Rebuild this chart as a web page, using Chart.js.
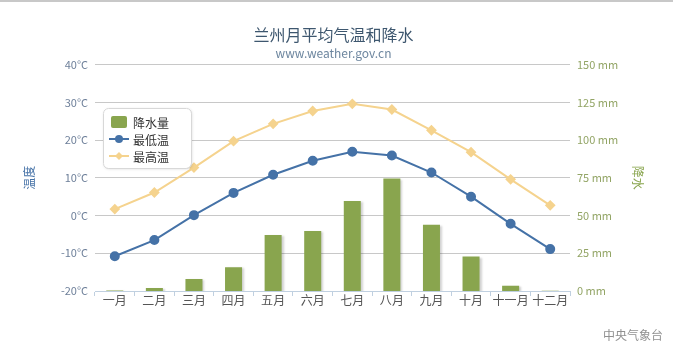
<!DOCTYPE html>
<html>
<head>
<meta charset="utf-8">
<script src="https://cdn.jsdelivr.net/npm/chart.js@4/dist/chart.umd.min.js"></script>
<style>
  html, body { margin: 0; padding: 0; background: #fff; }
  #wrap { position: relative; width: 673px; height: 364px; border-top: 2px solid #c8c8c8; box-sizing: border-box; }
  canvas { display: block; }
</style>
</head>
<body>
<div id="wrap"><canvas id="chart" width="673" height="362"></canvas></div>
<script>
// ── Data ───────────────────────────────────────────────────────────────────────
const months = ["一月", "二月", "三月", "四月", "五月", "六月", "七月", "八月", "九月", "十月", "十一月", "十二月"];
const rainfall = [0.3, 2.0, 7.9, 15.8, 37.1, 39.8, 59.6, 74.5, 43.9, 22.8, 3.5, 0.2];
const minTemp  = [-10.8, -6.5, 0.1, 6.0, 10.8, 14.5, 16.9, 15.9, 11.4, 5.0, -2.2, -8.9];
const maxTemp  = [1.7, 6.1, 12.7, 19.7, 24.3, 27.7, 29.6, 28.1, 22.6, 16.8, 9.6, 2.7];

const FONT = "'Noto Sans CJK SC', 'DejaVu Sans', sans-serif";
const BLUE = "#4572A7";
const GREEN = "#89A54E";
const YELLOW = "#F5D38E";

// ── Plugins ────────────────────────────────────────────────────────────────────

// soft shadow behind the bars
const barShadow = {
  id: "barShadow",
  beforeDatasetDraw(chart, args) {
    if (args.meta.type !== "bar") return;
    const ctx = chart.ctx;
    ctx.save();
    ctx.shadowColor = "rgba(0,0,0,0.18)";
    ctx.shadowOffsetX = 2;
    ctx.shadowOffsetY = 1;
    ctx.shadowBlur = 2;
  },
  afterDatasetDraw(chart, args) {
    if (args.meta.type !== "bar") return;
    chart.ctx.restore();
  },
};

// floating legend box inside the plot + credit text
const floatLegend = {
  id: "floatLegend",
  afterDraw(chart) {
    const ctx = chart.ctx;
    const x = 103, y = 106, w = 88, h = 60;
    ctx.save();
    ctx.shadowColor = "rgba(0,0,0,0.15)";
    ctx.shadowOffsetX = 1;
    ctx.shadowOffsetY = 1;
    ctx.shadowBlur = 3;
    ctx.fillStyle = "#fff";
    ctx.beginPath();
    ctx.roundRect(x, y, w, h, 5);
    ctx.fill();
    ctx.restore();
    ctx.save();
    ctx.strokeStyle = "#d8d8d8";
    ctx.lineWidth = 1;
    ctx.beginPath();
    ctx.roundRect(x + 0.5, y + 0.5, w, h, 5);
    ctx.stroke();

    ctx.font = `12px ${FONT}`;
    ctx.textBaseline = "middle";
    ctx.fillStyle = "#333";
    chart.data.datasets.forEach((ds, i) => {
      const cy = y + 14 + i * 17;
      if (ds.type === "bar") {
        ctx.fillStyle = ds.backgroundColor;
        ctx.beginPath();
        ctx.roundRect(x + 8, cy - 6, 16, 12, 2);
        ctx.fill();
      } else {
        ctx.strokeStyle = ds.borderColor;
        ctx.lineWidth = 2;
        ctx.beginPath();
        ctx.moveTo(x + 6, cy);
        ctx.lineTo(x + 26, cy);
        ctx.stroke();
        ctx.fillStyle = ds.pointBackgroundColor;
        ctx.beginPath();
        if (ds.pointStyle === "rectRot") {
          ctx.moveTo(x + 16, cy - 4);
          ctx.lineTo(x + 20, cy);
          ctx.lineTo(x + 16, cy + 4);
          ctx.lineTo(x + 12, cy);
        } else {
          ctx.arc(x + 16, cy, 4, 0, Math.PI * 2);
        }
        ctx.fill();
      }
      ctx.fillStyle = "#333";
      ctx.fillText(ds.label, x + 30, cy + 1);
    });

    ctx.font = `12px ${FONT}`;
    ctx.fillStyle = "#909090";
    ctx.textAlign = "right";
    ctx.fillText("中央气象台", 663, 333);
    ctx.restore();
  },
};

// ── Chart ──────────────────────────────────────────────────────────────────────

new Chart(document.getElementById("chart"), {
  data: {
    labels: months,
    datasets: [
      {
        type: "bar",
        label: "降水量",
        data: rainfall,
        yAxisID: "yRain",
        backgroundColor: GREEN,
        categoryPercentage: 1,
        barPercentage: 0.43,
        order: 3,
      },
      {
        type: "line",
        label: "最低温",
        data: minTemp,
        yAxisID: "yTemp",
        borderColor: BLUE,
        backgroundColor: BLUE,
        pointBackgroundColor: BLUE,
        pointBorderColor: BLUE,
        borderWidth: 2,
        pointRadius: 4,
        pointStyle: "circle",
        tension: 0,
        order: 2,
      },
      {
        type: "line",
        label: "最高温",
        data: maxTemp,
        yAxisID: "yTemp",
        borderColor: YELLOW,
        backgroundColor: YELLOW,
        pointBackgroundColor: YELLOW,
        pointBorderColor: YELLOW,
        borderWidth: 2,
        pointRadius: 4,
        pointStyle: "rectRot",
        tension: 0,
        order: 1,
      },
    ],
  },
  options: {
    responsive: false,
    animation: false,
    layout: { padding: { left: 22, right: 28, top: 0, bottom: 31 } },
    plugins: {
      legend: { display: false },
      tooltip: { enabled: false },
      title: {
        display: true,
        text: "兰州月平均气温和降水",
        color: "#3E576F",
        font: { family: FONT, size: 16, weight: "normal" },
        padding: { top: 23, bottom: 2 },
      },
      subtitle: {
        display: true,
        text: "www.weather.gov.cn",
        color: "#6D869F",
        font: { family: FONT, size: 12 },
        padding: { top: 0, bottom: 4 },
      },
    },
    scales: {
      x: {
        offset: true,
        grid: {
          offset: true,
          drawOnChartArea: false,
          drawTicks: true,
          tickLength: 5,
          color: "#C0D0E0",
        },
        border: { display: true, color: "#C0D0E0" },
        ticks: {
          color: "#555",
          font: { family: FONT, size: 12 },
          padding: -3,
          maxRotation: 0,
          autoSkip: false,
        },
        afterFit: s => { s.height = 42; },
      },
      yTemp: {
        position: "left",
        min: -20,
        max: 40,
        ticks: {
          stepSize: 10,
          color: "#6D7F99",
          font: { family: FONT, size: 11 },
          padding: 7,
          callback: v => `${v}°C`,
        },
        grid: { color: "#C8C8C8", drawTicks: false },
        border: { display: false },
        title: {
          display: true,
          text: "温度",
          color: BLUE,
          font: { family: FONT, size: 12 },
          padding: 0,
        },
        afterFit: s => { s.width = 73; },
      },
      yRain: {
        position: "right",
        min: 0,
        max: 150,
        ticks: {
          stepSize: 25,
          color: "#93A566",
          font: { family: FONT, size: 11 },
          padding: 7,
          callback: v => `${v} mm`,
        },
        grid: { display: false, drawTicks: false },
        border: { display: false },
        title: {
          display: true,
          text: "降水",
          color: GREEN,
          font: { family: FONT, size: 12 },
          padding: 0,
        },
        afterFit: s => { s.width = 75; },
      },
    },
  },
  plugins: [barShadow, floatLegend],
});
</script>
</body>
</html>
